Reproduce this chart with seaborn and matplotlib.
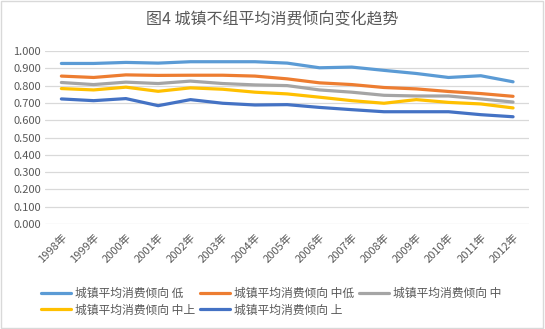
import matplotlib
matplotlib.use("Agg")
import matplotlib.pyplot as plt
import seaborn as sns
import pandas as pd

years = ["1998年", "1999年", "2000年", "2001年", "2002年", "2003年", "2004年", "2005年",
         "2006年", "2007年", "2008年", "2009年", "2010年", "2011年", "2012年"]
low = [0.928, 0.928, 0.934, 0.930, 0.938, 0.938, 0.938, 0.930, 0.903, 0.907, 0.888, 0.870, 0.847, 0.857, 0.822]
mid_low = [0.855, 0.847, 0.862, 0.859, 0.860, 0.860, 0.855, 0.839, 0.816, 0.806, 0.789, 0.781, 0.766, 0.754, 0.738]
mid = [0.818, 0.806, 0.820, 0.812, 0.826, 0.812, 0.804, 0.800, 0.775, 0.762, 0.744, 0.740, 0.740, 0.723, 0.705]
mid_high = [0.783, 0.775, 0.791, 0.767, 0.787, 0.779, 0.762, 0.752, 0.733, 0.713, 0.698, 0.719, 0.703, 0.694, 0.671]
high = [0.723, 0.713, 0.725, 0.684, 0.719, 0.698, 0.688, 0.690, 0.674, 0.661, 0.649, 0.649, 0.649, 0.632, 0.620]
series_names = ["城镇平均消费倾向 低", "城镇平均消费倾向 中低", "城镇平均消费倾向 中",
                "城镇平均消费倾向 中上", "城镇平均消费倾向 上"]
colors = ["#5B9BD5", "#ED7D31", "#A5A5A5", "#FFC000", "#4472C4"]
title = "图4 城镇不组平均消费倾向变化趋势"

sns.set_theme(style="white")
plt.rcParams["font.family"] = ["Noto Sans CJK SC", "DejaVu Sans"]

rows = []
for name, vals in zip(series_names, [low, mid_low, mid, mid_high, high]):
    for i, (y, v) in enumerate(zip(years, vals)):
        rows.append({"idx": i, "year": y, "series": name, "value": v})
df = pd.DataFrame(rows)

fig = plt.figure(figsize=(5.45, 3.29), dpi=100)
ax = fig.add_axes([0.083, 0.319, 0.888, 0.526])
sns.lineplot(data=df, x="idx", y="value", hue="series", hue_order=series_names,
             palette=colors, linewidth=2.3, ax=ax, legend=True)

ax.set_xlim(-0.5, len(years) - 0.5)
ax.set_ylim(0, 1.0)
ax.set_yticks([i / 10 for i in range(11)])
ax.set_yticklabels([f"{i/10:.3f}" for i in range(11)], fontsize=8, color="#595959")
ax.set_xticks(range(len(years)))
ax.set_xticklabels(years, rotation=45, ha="right", rotation_mode="anchor", fontsize=8, color="#595959")
ax.tick_params(axis="both", length=0, pad=3)
ax.tick_params(axis="x", pad=6)
ax.grid(axis="y", color="#D9D9D9", linewidth=0.9)
ax.set_axisbelow(True)
for s in ax.spines.values():
    s.set_visible(False)
ax.set_xlabel("")
ax.set_ylabel("")

handles, labels = ax.get_legend_handles_labels()
ax.legend_.remove()
order = [0, 3, 1, 4, 2]
fig.legend([handles[i] for i in order], [labels[i] for i in order],
           loc="upper left", bbox_to_anchor=(0.055, 0.16), ncol=3,
           frameon=False, fontsize=8.5, handlelength=2.6, columnspacing=0.4,
           handletextpad=0.3, labelspacing=0.3, labelcolor="#595959")

fig.text(0.5, 0.94, title, ha="center", va="center", fontsize=11.5, color="#595959")

border = plt.Rectangle((0.002, 0.003), 0.995, 0.994, transform=fig.transFigure,
                       fill=False, edgecolor="#D9D9D9", linewidth=1)
fig.patches.append(border)

fig.savefig("out.png", dpi=100)
